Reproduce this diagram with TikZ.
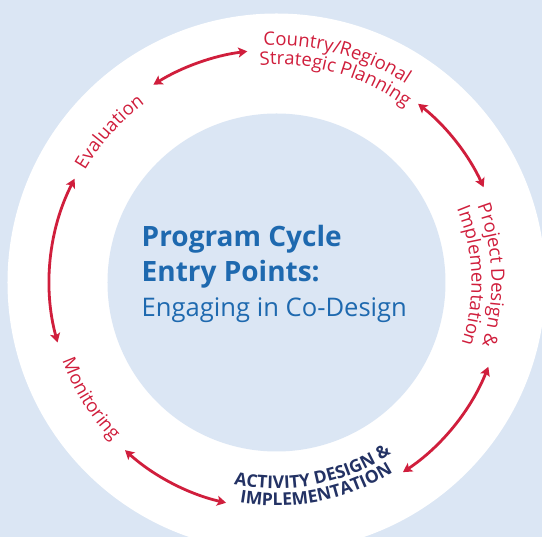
\documentclass[tikz,border=0pt]{standalone}
\usepackage{fontspec}
\setmainfont{Open Sans}
\usetikzlibrary{arrows.meta,decorations.text}

\definecolor{ringblue}{RGB}{219,230,244}
\definecolor{cyclered}{RGB}{208,30,60}
\definecolor{titleblue}{RGB}{30,105,175}
\definecolor{stagenavy}{RGB}{35,50,100}

\begin{document}
\begin{tikzpicture}[x=1pt,y=1pt]
    \tikzstyle{cycarrow}=[cyclered, line width=2.8pt, {Stealth[length=9pt,width=10pt,inset=2pt]}-{Stealth[length=9pt,width=10pt,inset=2pt]}]
    \tikzstyle{arclabel}=[decorate, decoration={text along path, text align=center, text color=cyclered}]
    \tikzstyle{title}=[anchor=base west, text=titleblue, inner sep=0pt]

    % backdrop and white ring
    \fill[ringblue] (-276.5,-254.5) rectangle (265.5,282.5);
    \useasboundingbox (-276.5,-254.5) rectangle (265.5,282.5);
    \fill[white] (0,0) circle[radius=269];
    \fill[ringblue] (0,0) circle[radius=169];

    % centre
    \node[title, font=\fontsize{28}{32}\selectfont\bfseries] (cycle) at (-135,36) {Program Cycle};
    \node[title, font=\fontsize{28}{32}\selectfont\bfseries] (entry) at (-135,0.5) {Entry Points:};
    \node[title, font=\fontsize{25.6}{30}\selectfont] (codesign) at (-135,-34.5) {Engaging in Co-Design};

    % stages round the ring
    \path[arclabel, decoration={text={|\fontsize{18.5}{20}\selectfont|Country/Regional}}] (105:237) arc[start angle=105, end angle=45, radius=237];
    \path[arclabel, decoration={text={|\fontsize{18.5}{20}\selectfont|Strategic Planning}}] (104:218) arc[start angle=104, end angle=44, radius=218];
    \path[arclabel, decoration={text={|\fontsize{18.5}{20}\selectfont|Project Design {\&}}}] (32:215) arc[start angle=32, end angle=-28, radius=215];
    \path[arclabel, decoration={text={|\fontsize{18.5}{20}\selectfont|Implementation}}] (32:195) arc[start angle=32, end angle=-28, radius=195];
    \path[arclabel, decoration={text={|\fontsize{18.5}{20}\selectfont|Evaluation}}] (168:222) arc[start angle=168, end angle=108, radius=222];
    \path[arclabel, decoration={text={|\fontsize{18.5}{20}\selectfont|Monitoring}}] (182:228) arc[start angle=182, end angle=242, radius=228];
    \path[arclabel, decoration={text color=stagenavy, text={|\fontsize{17.5}{20}\selectfont\bfseries|ACTIVITY DESIGN {\&}}}] (241:206) arc[start angle=241, end angle=321, radius=206];
    \path[arclabel, decoration={text color=stagenavy, text={|\fontsize{17.5}{20}\selectfont\bfseries|IMPLEMENTATION}}] (241:223) arc[start angle=241, end angle=321, radius=223];

    % arrows between the stages
    \foreach \a/\b/\r in {121.9/97.2/233, 51.6/24.7/228, -21.7/-56.3/228, 257.1/227.9/226, 195.3/152.8/227}
      \draw[cycarrow] (\a:\r) arc[start angle=\a, end angle=\b, radius=\r];
\end{tikzpicture}
\end{document}
